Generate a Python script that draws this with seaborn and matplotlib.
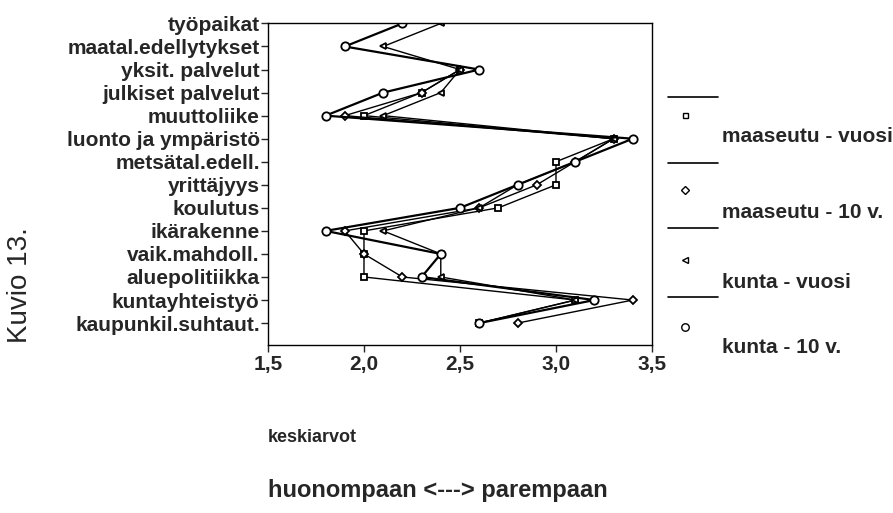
import matplotlib
matplotlib.use("Agg")
import matplotlib.pyplot as plt
from matplotlib.lines import Line2D
import numpy as np
import pandas as pd
import seaborn as sns

# categories, top to bottom
categories = [
    "työpaikat", "maatal.edellytykset", "yksit. palvelut", "julkiset palvelut",
    "muuttoliike", "luonto ja ympäristö", "metsätal.edell.", "yrittäjyys",
    "koulutus", "ikärakenne", "vaik.mahdoll.", "aluepolitiikka",
    "kuntayhteistyö", "kaupunkil.suhtaut.",
]

# mean values (nan = no point shown)
maaseutu_vuosi = [np.nan, np.nan, 2.5, 2.3, 2.0, 3.3, 3.0, 3.0, 2.7, 2.0, 2.0, 2.0, 3.1, 2.6]
maaseutu_10v = [np.nan, np.nan, 2.5, 2.3, 1.9, 3.3, 3.1, 2.9, 2.6, 1.9, 2.0, 2.2, 3.4, 2.8]
kunta_vuosi = [2.4, 2.1, 2.5, 2.4, 2.1, 3.3, 3.1, 2.8, 2.6, 2.1, 2.4, 2.4, 3.1, 2.6]
kunta_10v = [2.2, 1.9, 2.6, 2.1, 1.8, 3.4, 3.1, 2.8, 2.5, 1.8, 2.4, 2.3, 3.2, 2.6]

series_names = ["maaseutu - vuosi", "maaseutu - 10 v.", "kunta - vuosi", "kunta - 10 v."]
series_values = [maaseutu_vuosi, maaseutu_10v, kunta_vuosi, kunta_10v]
series_markers = ["s", "D", "<", "o"]
marker_sizes = [4, 4, 4.5, 6]
line_widths = [1.0, 1.0, 1.0, 1.6]

sns.set_style("ticks")
plt.rcParams["font.family"] = ["Liberation Sans", "DejaVu Sans"]

fig = plt.figure(figsize=(8.93, 5.13), dpi=100)
ax = fig.add_axes([0.3001, 0.3275, 0.43, 0.6277])

for name, vals, mk, ms, lw in zip(series_names, series_values, series_markers, marker_sizes, line_widths):
    d = pd.DataFrame({"value": vals, "pos": np.arange(len(categories))}).dropna()
    sns.lineplot(data=d, x="value", y="pos", orient="y", sort=False, estimator=None,
                 color="black", lw=lw, marker=mk, markersize=ms,
                 markerfacecolor="white", markeredgecolor="black", markeredgewidth=1.3,
                 ax=ax, legend=False)

ax.set_xlim(1.5, 3.5)
ax.set_ylim(13.95, -0.02)
ax.set_xticks([1.5, 2.0, 2.5, 3.0, 3.5])
ax.set_xticklabels(["1,5", "2,0", "2,5", "3,0", "3,5"], fontsize=15, fontweight="bold")
ax.set_yticks(np.arange(len(categories)))
ax.set_yticklabels(categories, fontsize=15, fontweight="bold")
ax.tick_params(axis="y", length=5, pad=1, width=1)
ax.tick_params(axis="x", length=5, pad=2, width=1)
ax.set_xlabel("")
ax.set_ylabel("")
for sp in ax.spines.values():
    sp.set_visible(True)
    sp.set_linewidth(1.0)
    sp.set_color("black")

# legend drawn by hand, like the original SPSS layout
sep_y = [0.811, 0.682, 0.556, 0.421]
mark_y = [0.776, 0.630, 0.493, 0.363]
text_y = [0.733, 0.585, 0.450, 0.322]
for name, mk, ms, sy, my, ty in zip(series_names, series_markers, marker_sizes, sep_y, mark_y, text_y):
    fig.add_artist(Line2D([0.748, 0.804], [sy, sy], color="black", lw=1.2,
                          transform=fig.transFigure))
    fig.add_artist(Line2D([0.767], [my], marker=mk, markersize=ms * 0.9, color="black",
                          markerfacecolor="white", markeredgewidth=1.0, linestyle="none",
                          transform=fig.transFigure))
    fig.text(0.8085, ty, name, fontsize=15, fontweight="bold", ha="left", va="center")

fig.text(0.022, 0.445, "Kuvio 13.", fontsize=20, rotation=90, ha="center", va="center")
fig.text(0.300, 0.148, "keskiarvot", fontsize=13, fontweight="bold", ha="left", va="center")
fig.text(0.300, 0.043, "huonompaan <---> parempaan", fontsize=17, fontweight="bold",
         ha="left", va="center")

fig.savefig("out.png", dpi=100)
